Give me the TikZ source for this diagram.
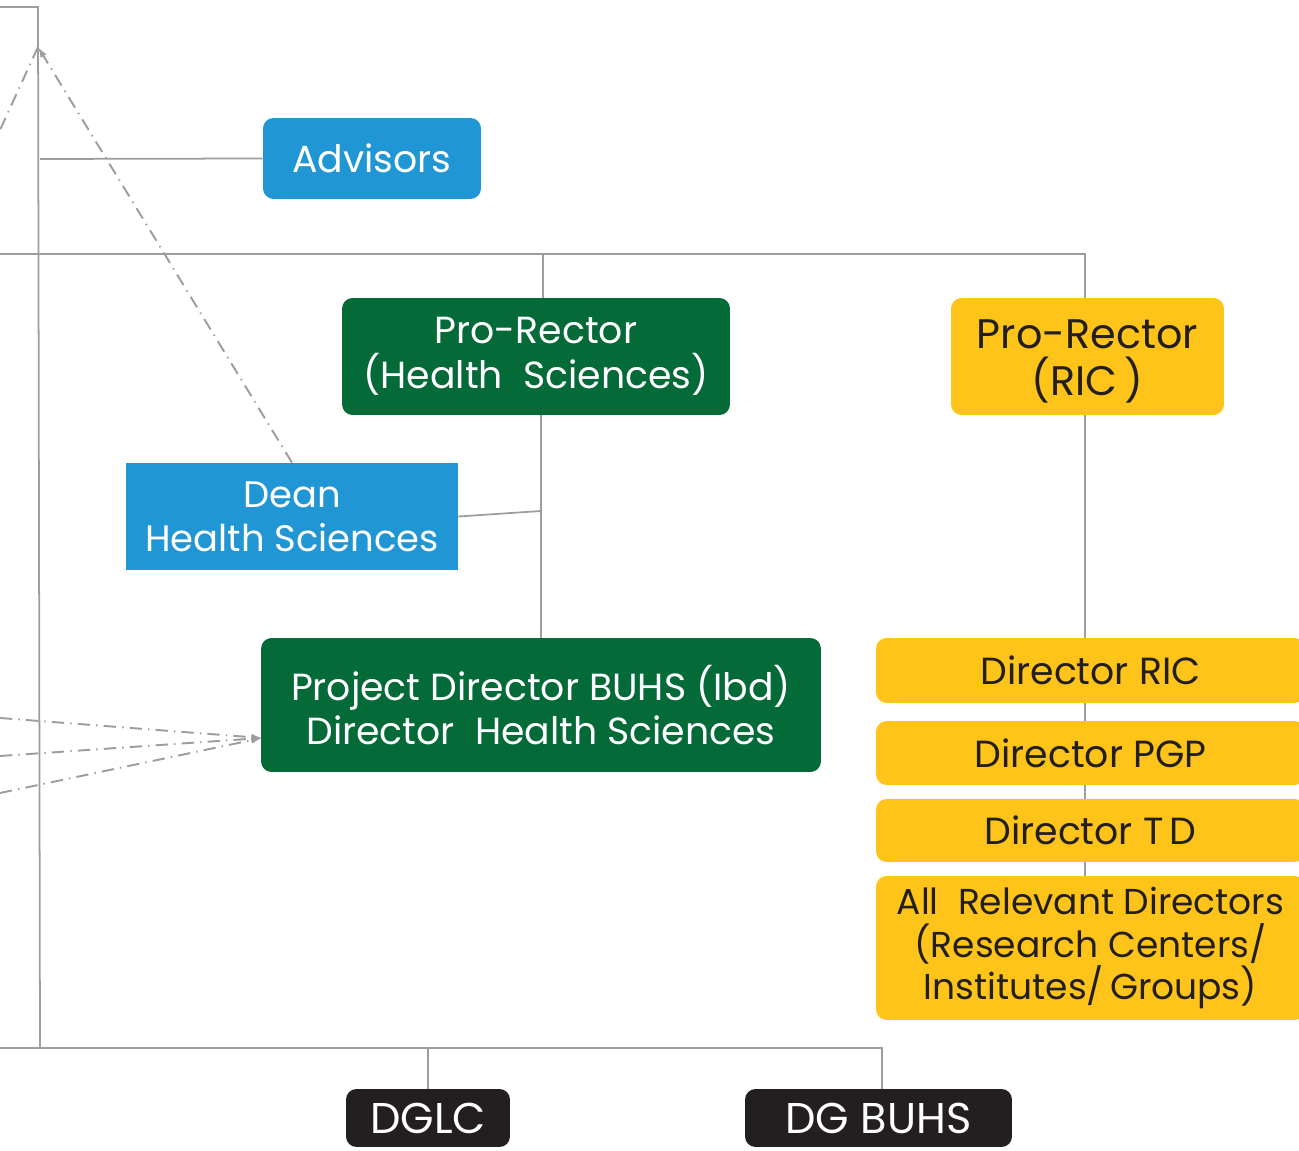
\documentclass[tikz,border=0pt]{standalone}
\usepackage{fontspec}
\setmainfont{Poppins}
\usetikzlibrary{arrows.meta,backgrounds}
\definecolor{bublue}{HTML}{2196D4}
\definecolor{bugreen}{HTML}{046A38}
\definecolor{buyellow}{HTML}{FFC419}
\definecolor{bublack}{HTML}{231F20}
\definecolor{buline}{HTML}{9D9D9F}
\tikzset{
  box/.style={inner sep=0pt,align=center,font=\fontsize{21.5}{25.5}\selectfont},
  bluebox/.style={box,fill=bublue,text=white,rounded corners=6pt},
  greenbox/.style={box,fill=bugreen,text=white,rounded corners=6pt},
  yellowbox/.style={box,fill=buyellow,text=bublack,rounded corners=6pt},
  blackbox/.style={box,fill=bublack,text=white,rounded corners=6pt,font=\fontsize{24.5}{28}\selectfont},
  link/.style={draw=buline,line width=1pt},
  dlink/.style={draw=buline,line width=1.1pt,dash pattern=on 7pt off 3.5pt on 0.8pt off 3.5pt}
}
\begin{document}
\begin{tikzpicture}[x=0.02cm,y=-0.02cm,>={Latex[length=6pt,width=4pt]}]
			\useasboundingbox (0,0) rectangle (1299,1151);
			\clip (0,0) rectangle (1299,1151);

			\coordinate (top) at (38,7);
			\coordinate (apex) at (38,47);
			\coordinate (spine) at (40,1048);
			\coordinate (pdin) at (262,738);

			\node[bluebox,minimum width=4.36cm,minimum height=1.62cm] (adv) at (372,158.5) {Advisors};
			\node[greenbox,minimum width=7.76cm,minimum height=2.34cm] (prohs) at (536,356.5) {Pro-Rector\\(Health\ \ Sciences)};
			\node[yellowbox,minimum width=5.46cm,minimum height=2.34cm,font=\fontsize{23.5}{27}\selectfont] (proric) at (1087.5,356.5) {\rule{0pt}{22pt}Pro-Rector\\(RIC\,)};
			\node[box,fill=bublue,text=white,minimum width=6.64cm,minimum height=2.14cm,font=\fontsize{21}{25}\selectfont] (dean) at (292,516.5) {Dean\\Health Sciences};
			\node[greenbox,minimum width=11.2cm,minimum height=2.68cm] (pd) at (541,705) {Project Director BUHS (Ibd)\\Director\ \ Health Sciences};

			\node[yellowbox,minimum width=8.58cm,minimum height=1.3cm] (dric) at (1090.5,670.5) {Director RIC};
			\node[yellowbox,minimum width=8.58cm,minimum height=1.28cm] (dpgp) at (1090.5,753) {Director PGP};
			\node[yellowbox,minimum width=8.58cm,minimum height=1.26cm] (dtd) at (1090.5,830.5) {Director T\,D};
			\node[yellowbox,minimum width=8.58cm,minimum height=2.88cm,font=\fontsize{20.5}{24}\selectfont] (alld) at (1090.5,948) {All\ \ Relevant Directors\\(Research Centers/\\Institutes/\,Groups)};

			\node[blackbox,minimum width=3.28cm,minimum height=1.16cm] (dglc) at (428,1118) {DGLC};
			\node[blackbox,minimum width=5.34cm,minimum height=1.16cm] (dgbuhs) at (878.5,1118) {DG BUHS};

			\begin{scope}[on background layer]
			% spine and branches
			\draw[link] (0,7) -- (top) -- (spine);
			\draw[link] (40,159) -- (adv.west);
			\draw[link] (0,254) -- (1085,254) -- (proric.north -| 1085,0);
			\draw[link] (543,254) -- (prohs.north -| 543,0);
			\draw[link] (prohs.south -| 541,0) -- (pd.north -| 541,0);
			\draw[link] (dean.east) -- (541,511);
			\draw[link] (proric.south -| 1085,0) -- (alld.north -| 1085,0);
			\draw[link] (0,1048) -- (882,1048) -- (dgbuhs.north -| 882,0);
			\draw[link] (428,1048) -- (dglc.north);

			% dashed links
			\draw[dlink,->] (dean.north) -- (apex);
			\draw[dlink] (apex) -- (0,130);
			\draw[dlink,->] (0,718) -- (pdin);
			\draw[dlink,->] (0,756) -- (pdin);
			\draw[dlink,->] (0,793) -- (pdin);
			\end{scope}
		\end{tikzpicture}
\end{document}
